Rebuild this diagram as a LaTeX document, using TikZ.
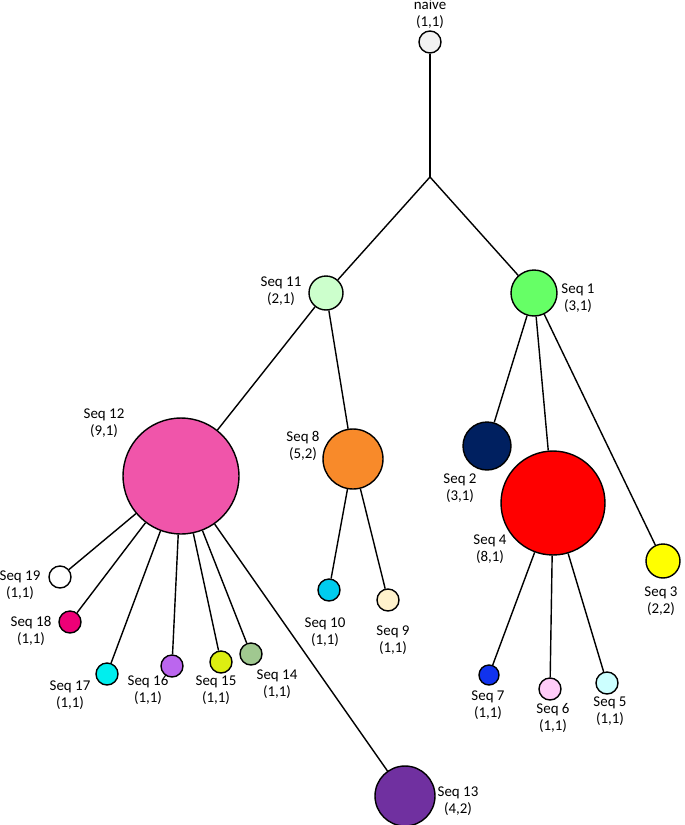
\documentclass[tikz,border=0pt]{standalone}
\usepackage{fontspec}
\setmainfont{Carlito}
\usetikzlibrary{positioning}
\definecolor{cNaive}{HTML}{F2F2F2}
\definecolor{cS1}{HTML}{66FF66}
\definecolor{cS2}{HTML}{002060}
\definecolor{cS3}{HTML}{FFFF00}
\definecolor{cS4}{HTML}{FF0000}
\definecolor{cS5}{HTML}{CCFFFF}
\definecolor{cS6}{HTML}{FFCCF8}
\definecolor{cS7}{HTML}{1133EE}
\definecolor{cS8}{HTML}{F88A2A}
\definecolor{cS9}{HTML}{FFF2CC}
\definecolor{cS10}{HTML}{00CCEE}
\definecolor{cS11}{HTML}{CCFFCC}
\definecolor{cS12}{HTML}{F055AA}
\definecolor{cS13}{HTML}{7030A0}
\definecolor{cS14}{HTML}{A0C890}
\definecolor{cS15}{HTML}{DDEE11}
\definecolor{cS16}{HTML}{BB66EE}
\definecolor{cS17}{HTML}{00EEEE}
\definecolor{cS18}{HTML}{EE0077}
\begin{document}
\begin{tikzpicture}[x=0.02cm, y=-0.02cm,
  clone/.style={circle, draw=black, thick, inner sep=0pt, minimum size=#1*0.04cm},
  lab/.style={align=center, font=\fontsize{8.5}{9.5}\selectfont, inner sep=1pt}]

  \useasboundingbox (0,0) rectangle (685,825);

  % --- ROOT ---
  \node[clone=11, fill=cNaive] (naive) at (430,42) {};
  \node[lab] (Lnaive) at (430,14) {naive\\(1,1)};
  \coordinate (split) at (430,177);

  % --- FIRST LEVEL ---
  \node[clone=17, fill=cS11] (s11) at (326,293) {};
  \node[lab] (L11) at (281,291) {Seq 11\\(2,1)};
  \node[clone=23, fill=cS1] (s1) at (534,293) {};
  \node[lab] (L1) at (578,298) {Seq 1\\(3,1)};

  % --- SEQ 11 BRANCH ---
  \node[clone=58, fill=cS12] (s12) at (181,476) {};
  \node[lab] (L12) at (104,423) {Seq 12\\(9,1)};
  \node[clone=30, fill=cS8] (s8) at (353,459) {};
  \node[lab] (L8) at (303,446) {Seq 8\\(5,2)};
  \node[clone=11, fill=cS10] (s10) at (329,590) {};
  \node[lab] (L10) at (325,632) {Seq 10\\(1,1)};
  \node[clone=11, fill=cS9] (s9) at (388,600) {};
  \node[lab] (L9) at (393,640) {Seq 9\\(1,1)};

  % --- SEQ 12 CHILDREN ---
  \node[clone=11, fill=white] (s19) at (60,577) {};
  \node[lab] (L19) at (20,585) {Seq 19\\(1,1)};
  \node[clone=11, fill=cS18] (s18) at (70,622) {};
  \node[lab] (L18) at (31,631) {Seq 18\\(1,1)};
  \node[clone=11, fill=cS17] (s17) at (107,674) {};
  \node[lab] (L17) at (70,695) {Seq 17\\(1,1)};
  \node[clone=11, fill=cS16] (s16) at (172,666) {};
  \node[lab] (L16) at (148,690) {Seq 16\\(1,1)};
  \node[clone=11, fill=cS15] (s15) at (221,662) {};
  \node[lab] (L15) at (216,690) {Seq 15\\(1,1)};
  \node[clone=11, fill=cS14] (s14) at (251,654) {};
  \node[lab] (L14) at (277,684) {Seq 14\\(1,1)};
  \node[clone=30, fill=cS13] (s13) at (405,796) {};
  \node[lab] (L13) at (458,801) {Seq 13\\(4,2)};

  % --- SEQ 1 BRANCH ---
  \node[clone=24, fill=cS2] (s2) at (487,446) {};
  \node[lab] (L2) at (460,488) {Seq 2\\(3,1)};
  \node[clone=52, fill=cS4] (s4) at (553,503) {};
  \node[lab] (L4) at (490,549) {Seq 4\\(8,1)};
  \node[clone=17, fill=cS3] (s3) at (663,561) {};
  \node[lab] (L3) at (661,601) {Seq 3\\(2,2)};
  \node[clone=10, fill=cS7] (s7) at (489,675) {};
  \node[lab] (L7) at (488,705) {Seq 7\\(1,1)};
  \node[clone=11, fill=cS6] (s6) at (550,689) {};
  \node[lab] (L6) at (553,718) {Seq 6\\(1,1)};
  \node[clone=11, fill=cS5] (s5) at (607,683) {};
  \node[lab] (L5) at (610,711) {Seq 5\\(1,1)};

  % --- EDGES ---
  \draw[thick] (naive) -- (split);
  \foreach \a/\b in {split/s11, split/s1, s11/s12, s11/s8, s8/s10, s8/s9,
      s12/s19, s12/s18, s12/s17, s12/s16, s12/s15, s12/s14, s12/s13,
      s1/s2, s1/s4, s1/s3, s4/s7, s4/s6, s4/s5}
    \draw[thick] (\a) -- (\b);

\end{tikzpicture}
\end{document}
